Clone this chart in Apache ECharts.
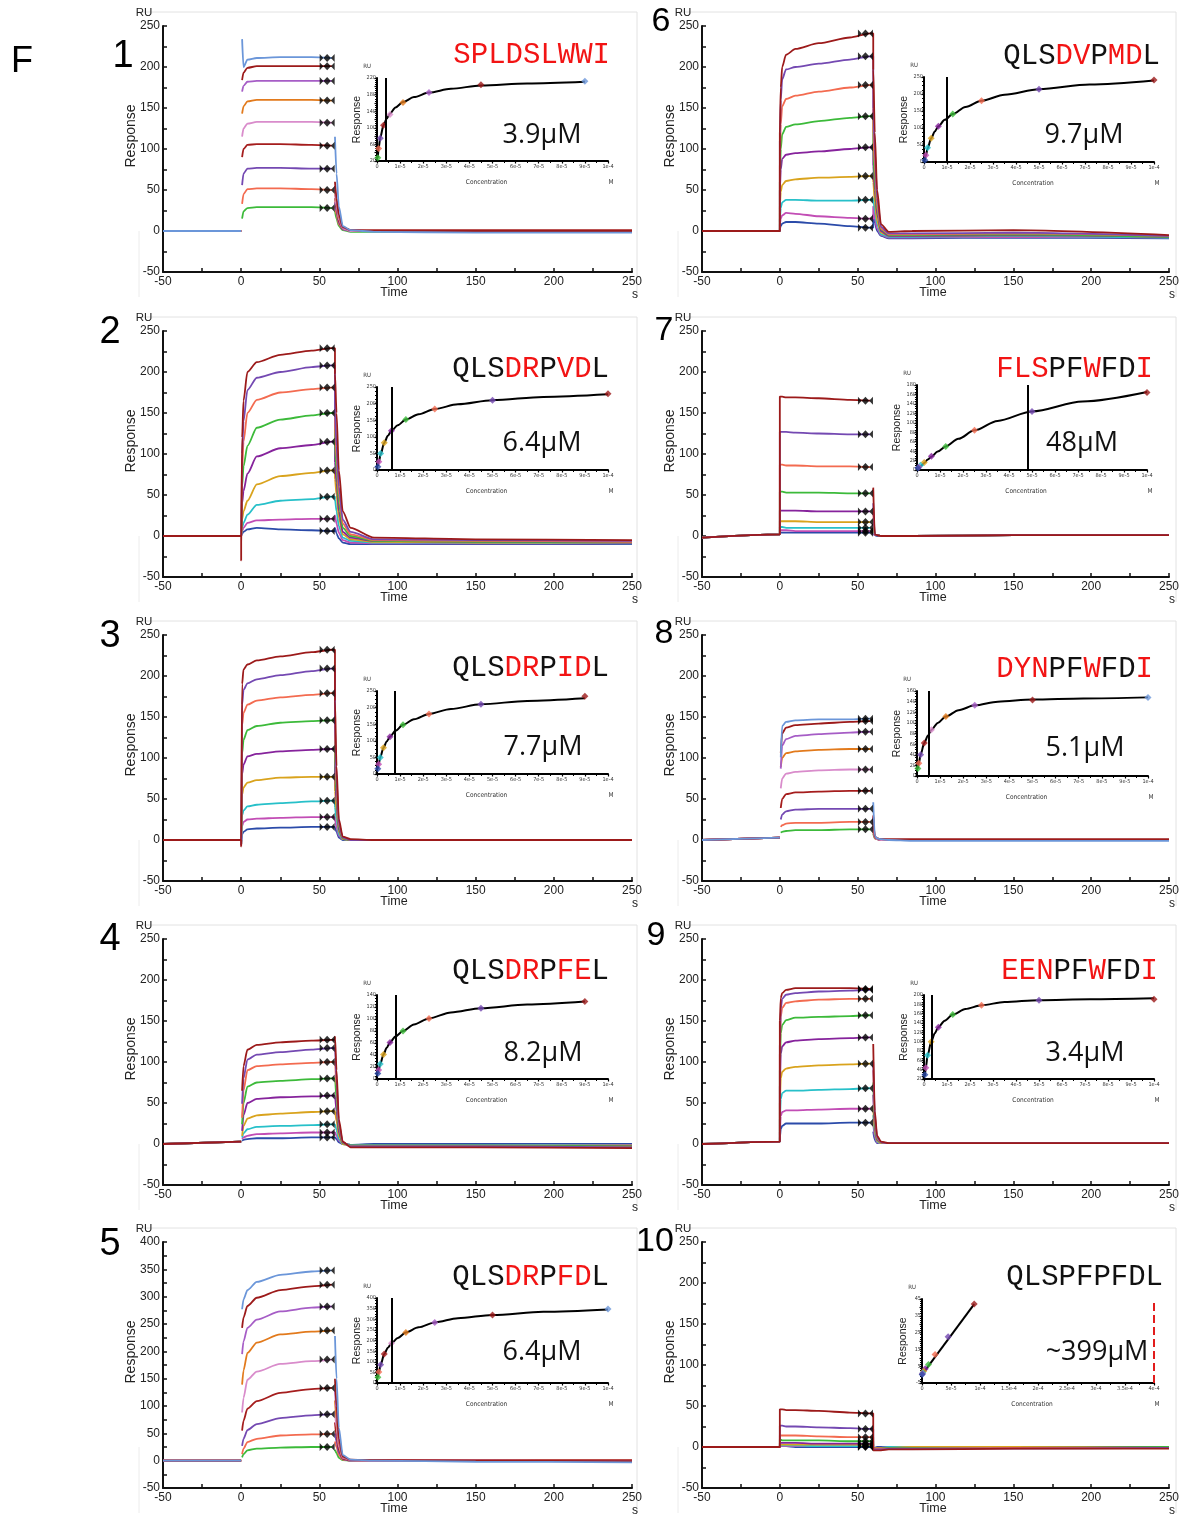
<!DOCTYPE html>
<html><head><meta charset="utf-8">
<script src="https://cdn.jsdelivr.net/npm/echarts@6/dist/echarts.min.js"></script>
<style>html,body{margin:0;padding:0;background:#fff}#c{width:1185px;height:1518px}</style>
</head><body><div id="c"></div><script>
// ---------- DATA ----------
const time = [-50, 0, 0, 0.6, 1.5, 4, 10, 25, 45, 58, 60, 60, 61, 62.5, 65, 70, 85, 150, 250];
const reportTime = 55;
const xTickLabels = ['-50','0','50','100','150','200','250'];
const colorsA = ['#6b96d9','#9c1a1a','#a65dc6','#e27a1c','#d98ccb','#a51d1d','#7449b2','#f36b50','#3cba3a'];
const colorsB = ['#9c1a1a','#7449b2','#f36b50','#3cba3a','#86239c','#d9a31d','#27c0c9','#c24db5','#2b4ba9'];

const p1 = [
 [0,0,null,234,200,209,211,212,212,211,null,115,70,30,6,1,-1,-2,-2],
 [0,0,null,184,193,199,201,201,201,201,null,60,40,20,5,1,0,0,0],
 [0,0,null,170,177,182,183,183,183,183,null,55,38,18,4,1,0,0,-1],
 [0,0,null,143,152,158,160,160,160,159,null,50,35,16,4,1,0,0,-1],
 [0,0,null,115,125,131,133,133,133,132,null,45,30,14,3,0,0,0,-1],
 [0,0,null,90,100,105,106,106,105,104,null,40,28,12,3,1,1,1,1],
 [0,0,null,56,70,76,77,77,76,76,null,35,24,10,2,0,0,0,-1],
 [0,0,null,33,45,51,52,52,51,50,null,30,20,8,2,0,0,0,0],
 [0,0,null,15,24,28,29,29,29,28,null,25,15,6,1,-1,-1,-1,-1]];
const p2 = [
 [0,0,-30,120,165,200,212,221,226,229,229,198,150,80,30,10,-2,-4,-5],
 [0,0,0,100,140,178,193,200,206,208,208,150,110,60,20,5,-4,-5,-6],
 [0,0,0,80,115,150,166,175,179,181,181,130,95,50,15,2,-5,-6,-7],
 [0,0,0,60,85,110,132,142,147,150,150,110,80,40,10,0,-6,-7,-7],
 [0,0,0,40,55,76,97,107,111,115,115,90,65,30,5,-2,-6,-7,-8],
 [0,0,0,20,30,43,63,73,77,80,80,70,50,22,2,-4,-7,-8,-8],
 [0,0,0,10,16,26,38,43,45,48,48,45,30,12,-2,-6,-8,-8,-9],
 [0,0,0,6,10,16,19,20,21,21,21,25,15,4,-5,-8,-9,-9,-9],
 [0,0,0,3,5,8,10,8,7,6,6,10,3,-3,-8,-10,-10,-10,-10]];
const p3 = [
 [0,0,-8,190,208,214,219,224,229,232,232,170,90,25,4,1,0,0,0],
 [0,0,-6,165,183,191,196,201,206,209,209,140,75,20,3,0,0,0,0],
 [0,0,-6,140,155,165,170,174,177,179,179,120,65,18,3,0,0,0,0],
 [0,0,-5,105,122,134,139,143,145,146,146,100,55,15,2,0,0,0,0],
 [0,0,-5,80,92,102,105,108,110,111,111,80,45,12,2,0,0,0,0],
 [0,0,-5,55,64,70,73,76,77,77,77,60,35,10,1,0,0,0,0],
 [0,0,-5,30,36,41,43,45,47,48,48,40,25,7,1,0,0,0,0],
 [0,0,-5,17,22,25,26,27,28,28,28,25,15,5,1,0,0,0,0],
 [0,0,-5,7,10,13,14,15,16,16,16,15,10,3,0,0,0,0,0]];
const p4 = [
 [0,3,null,65,95,115,121,124,126,127,127,131,90,30,3,-4,-4,-4,-5],
 [0,3,null,49,80,103,109,112,115,117,117,117,80,25,2,-3,-3,-3,-4],
 [0,3,null,32,65,90,95,97,99,100,100,100,70,22,2,-3,-3,-3,-4],
 [0,3,null,24,50,70,75,77,79,80,80,80,55,18,1,-2,-2,-2,-3],
 [0,3,null,16,35,50,55,57,58,59,59,59,40,14,1,-2,-2,-2,-3],
 [0,3,null,10,22,31,35,37,39,40,40,40,28,10,0,-2,-2,-2,-2],
 [0,3,null,8,13,18,21,22,23,24,24,24,17,6,0,-1,-1,-1,-2],
 [0,3,null,6,8,10,12,13,14,14,14,14,10,4,0,-1,-1,-1,-1],
 [0,3,null,4,5,6,7,7,8,8,8,8,6,2,0,-1,0,0,0]];
const p5 = [
 [0,0,null,277,295,312,327,340,346,348,null,228,150,60,10,2,0,-2,-3],
 [0,0,null,243,262,283,298,312,319,322,null,150,100,40,8,2,1,0,-1],
 [0,0,null,195,218,243,258,273,280,282,null,130,90,35,7,1,0,0,-1],
 [0,0,null,139,165,197,216,231,236,238,null,110,75,30,6,1,0,0,-1],
 [0,0,null,88,115,148,163,177,182,185,null,90,60,25,5,1,0,0,-1],
 [0,0,null,55,73,95,109,124,131,133,null,70,45,20,4,1,1,1,1],
 [0,0,null,27,40,56,67,78,83,85,null,50,35,15,3,0,0,0,-1],
 [0,0,null,12,22,34,40,46,48,49,null,35,25,10,2,0,0,0,0],
 [0,0,null,6,12,19,22,24,25,25,null,20,14,5,1,0,0,-1,-1]];
const p6 = [
 [0,0,120,175,200,215,222,229,236,241,241,197,120,50,8,-1,0,1,-5],
 [0,0,110,160,185,197,200,204,209,213,213,150,100,40,5,-3,-3,-2,-6],
 [0,0,80,130,152,161,165,170,175,178,178,120,80,30,3,-4,-4,-3,-6],
 [0,0,60,100,118,127,130,134,138,140,140,100,60,25,2,-5,-5,-4,-7],
 [0,0,50,75,88,93,95,97,100,102,102,80,50,20,0,-6,-6,-5,-7],
 [0,0,30,48,56,61,63,65,66,67,67,60,35,12,-2,-6,-6,-5,-7],
 [0,0,15,28,35,38,38,37,37,38,38,40,25,8,-4,-7,-7,-6,-8],
 [0,0,8,15,19,22,21,18,16,15,15,30,15,3,-5,-8,-8,-7,-8],
 [0,0,3,6,9,11,11,9,6,4,4,20,10,0,-6,-9,-9,-8,-9]];
const p7 = [
 [-2,2,170,170,170,169,169,168,166,165,null,59,2,1,0,0,0,1,1],
 [-2,2,127,127,127,127,126,125,124,124,null,40,2,1,0,0,0,1,1],
 [-2,2,87,87,87,86,86,85,85,84,null,30,2,1,0,0,0,1,1],
 [-2,2,54,54,54,53,53,53,52,52,null,20,2,1,0,0,0,1,1],
 [-2,2,31,31,31,31,31,30,30,30,null,15,2,1,0,0,0,1,1],
 [-2,2,18,18,18,18,18,17,17,17,null,10,2,1,0,0,0,1,1],
 [-2,2,11,11,11,10,10,10,10,10,null,8,2,1,0,0,0,1,1],
 [-2,2,7,7,7,7,6,6,6,6,null,5,1,1,0,0,0,1,1],
 [-2,2,4,4,4,4,4,4,4,4,null,3,1,0,0,0,0,1,1]];
const p8 = [
 [0,3,null,101,139,144,146,147,147,148,null,46,5,2,1,0,-1,-1,-1],
 [0,3,null,106,130,137,140,142,144,145,null,30,4,2,1,1,1,1,1],
 [0,3,null,87,115,123,127,129,131,132,null,28,4,2,1,0,0,0,0],
 [0,3,null,89,100,106,108,110,111,111,null,25,4,2,1,0,0,0,0],
 [0,3,null,63,75,81,83,85,86,86,null,20,3,1,0,0,0,0,0],
 [0,3,null,39,50,56,58,59,60,60,null,18,3,1,0,0,0,0,0],
 [0,3,null,25,31,35,37,38,38,38,null,15,3,1,0,0,0,0,0],
 [0,3,null,16,18,20,21,21,22,22,null,10,2,1,0,0,0,0,0],
 [0,3,null,9,10,11,12,12,13,13,null,8,2,1,0,0,0,0,0]];
const p9 = [
 [0,3,150,178,184,188,190,190,190,189,null,122,40,10,3,1,1,1,1],
 [0,3,120,165,177,182,184,186,187,188,null,100,35,8,2,1,1,1,1],
 [0,3,110,155,166,172,174,176,177,177,null,90,30,7,2,1,1,1,1],
 [0,3,90,135,145,151,154,155,156,157,null,75,25,6,2,1,1,1,1],
 [0,3,70,110,119,124,126,128,129,130,null,60,20,5,2,1,1,1,1],
 [0,3,50,80,88,92,94,96,97,98,null,45,15,4,1,1,1,1,1],
 [0,3,30,55,62,65,65,66,67,68,null,35,12,3,1,1,1,1,1],
 [0,3,15,34,39,41,41,42,43,43,null,25,8,2,1,1,1,1,1],
 [0,3,8,18,22,25,25,25,26,26,null,15,5,1,1,1,1,1,1]];
const p10 = [
 [0,0,46,46,46,45,45,44,42,41,41,-4,-4,-4,-4,-3,-3,-2,-2],
 [0,0,26,26,26,25,25,24,23,22,22,-3,-3,-3,-3,-2,-2,-2,-1],
 [0,0,14,14,14,14,14,13,12,12,12,-2,-2,-2,-2,-2,-2,-1,-1],
 [0,0,9,9,8,8,8,8,7,7,7,-2,-2,-2,-2,-1,-1,-1,0],
 [0,0,5,5,5,5,5,4,4,4,4,-2,-2,-2,-2,-1,-1,-1,0],
 [0,0,3,3,3,3,3,3,3,3,3,-1,-1,-1,-1,-1,0,0,0],
 [0,0,2,2,2,2,2,1,1,1,1,-1,-1,-1,-1,0,0,0,0],
 [0,0,1,1,1,1,1,1,1,1,1,-1,-1,-1,-1,0,0,0,0],
 [0,0,1,1,1,1,0,0,0,0,0,-1,-1,0,0,0,0,0,0]];

// Inset (steady-state) data, concentrations in µM
const concA = [90, 45, 22.5, 11.25, 5.63, 2.81, 1.41, 0.70, 0.35];
const concB = [100, 50, 25, 12.5, 6.25, 3.13, 1.56, 0.78, 0.39];
const ins1 = [212,204,185,161,132,106,75,50,28];
const ins2 = [230,210,184,152,118,82,50,25,10];
const ins3 = [234,210,181,148,112,79,50,29,16];
const ins4 = [129,118,101,80,61,41,25,15,9];
const ins5 = [348,320,285,238,187,136,86,52,27];
const ins6 = [241,214,180,141,105,70,42,20,5];
const ins7 = [164,124,84,50,29,16,10,6,4];
const ins8 = [148,143,133,112,87,62,40,24,14];
const ins9 = [191,189,178,158,131,100,71,44,29];
const ins10 = [42,22.5,12,6,3.5,2,1,0.5,0];

// Fitted curves read along the black line of each inset (µM, RU)
const fitXA = [0.35,0.7,1.4,2.8,4.2,5.6,8,11.25,16,22.5,32,45,65,90];
const fitXB = [0.39,0.78,1.56,3.13,4.7,6.25,9,12.5,18,25,35,50,72,100];
const fitX10 = [0, 90];
const fit1 = [28,50,76,106,122,134,149,162,174,185,194,202,207,211];
const fit2 = [12,24,47,82,103,118,135,152,168,184,198,210,220,228];
const fit3 = [16,29,50,79,98,112,130,148,165,181,196,210,220,228];
const fit4 = [9,15,25,41,52,61,71,80,91,101,111,118,124,129];
const fit5 = [27,50,86,136,166,187,212,238,262,285,305,320,335,346];
const fit6 = [5,18,40,70,90,105,124,141,162,180,198,214,228,240];
const fit7 = [2,4,8,15,22,28,39,50,66,84,104,124,145,165];
const fit8 = [14,24,40,62,76,87,100,112,124,133,140,144,146,148];
const fit9 = [26,44,70,100,118,131,145,158,170,178,185,189,191,193];
const fit10 = [0,42];

const kdValues = [3.9, 6.4, 7.7, 8.2, 6.4, 9.7, 48, 5.1, 3.4, 399];
const kdTexts = ['3.9μM','6.4μM','7.7μM','8.2μM','6.4μM','9.7μM','48μM','5.1μM','3.4μM','~399μM'];
const insetXLabels = ['0','1e-5','2e-5','3e-5','4e-5','5e-5','6e-5','7e-5','8e-5','9e-5','1e-4'];
const insetXLabelsWide = ['0','5e-5','1e-4','1.5e-4','2e-4','2.5e-4','3e-4','3.5e-4','4e-4'];
const insetYMin  = [20, 0, 0, 0, 0, 0, 0, 0, 20, -5];
const insetYMax  = [220, 250, 250, 140, 400, 250, 180, 160, 200, 45];
const insetYStep = [20, 50, 50, 20, 50, 50, 20, 20, 20, 5];
const insetYEvery = [2, 1, 1, 1, 1, 1, 1, 1, 1, 2];

const peptides = ['SPLDSLWWI','QLSDRPVDL','QLSDRPIDL','QLSDRPFEL','QLSDRPFDL','QLSDVPMDL','FLSPFWFDI','DYNPFWFDI','EENPFWFDI','QLSPFPFDL'];
const peptideRedMask = ['111111111','000110110','000110110','000110110','000110110','000110110','111001001','111001001','111001001','000000000'];
const panelNumbers = ['1','2','3','4','5','6','7','8','9','10'];

// ---------- PANEL SETUP ----------
const panelCurves = [p1,p2,p3,p4,p5,p6,p7,p8,p9,p10];
const panelColors = [colorsA,colorsB,colorsB,colorsB,colorsA,colorsB,colorsB,colorsA,colorsB,colorsB];
const panelYMax = [250,250,250,250,400,250,250,250,250,250];
const panelConc = [concA,concB,concA,concA,concB,concB,concB,concB,concB,concA];
const panelIns = [ins1,ins2,ins3,ins4,ins5,ins6,ins7,ins8,ins9,ins10];
const panelFitX = [fitXA,fitXB,fitXA,fitXA,fitXB,fitXB,fitXB,fitXB,fitXB,fitX10];
const panelFitY = [fit1,fit2,fit3,fit4,fit5,fit6,fit7,fit8,fit9,fit10];

// layout
const mainLeft = [163, 702], mainWidth = [469, 467], rowTop = [26, 331, 635, 939, 1242], mainH = 246;
const insetBox = [[377,608,78,161],[377,608,387,470],[377,608,691,774],[377,608,995,1079],[377,608,1298,1383],
                  [924,1154,77,162],[917,1147,385,470],[917,1148,691,776],[924,1154,995,1079],[922,1154,1299,1383]];
const numPos = [[123,57],[110,333],[110,637],[110,940],[110,1245],[661,22],[664,331],[664,634],[656,936],[655,1242]];
const pepPos = [[610,55],[609,369],[609,668],[609,971],[609,1277],[1160,56],[1153,369],[1153,669],[1158,971],[1163,1277]];
const kdPos = [[542,135],[542,443],[543,747],[543,1053],[542,1352],[1084,135],[1082,443],[1085,748],[1085,1053],[1097,1352]];
const frameX = [[139,637],[678,1176]];

const SANS = 'Liberation Sans, Arial, sans-serif';
const NARROW = 'Liberation Sans Narrow, DejaVu Sans Condensed, Liberation Sans, sans-serif';
const bowtie = 'path://M0,0L4,3L0,6ZM8,0L4,3L8,6ZM8,0L12,3L8,6ZM16,0L12,3L16,6Z';

const grids = [], xAxes = [], yAxes = [], series = [], graphics = [];

graphics.push({type:'text', x:22, y:62, style:{text:'F', font:'36px '+SANS, fill:'#000', align:'center', verticalAlign:'middle'}});

for (let i = 0; i < 10; i++) {
  const col = i < 5 ? 0 : 1, row = i % 5;
  const L = mainLeft[col], W = mainWidth[col], T = rowTop[row];
  const gMain = grids.length;
  grids.push({left:L, top:T, width:W, height:mainH});
  xAxes.push({type:'value', gridIndex:gMain, min:-50, max:250, interval:50,
    axisLine:{onZero:false, lineStyle:{color:'#111', width:2}},
    axisTick:{inside:true, length:4, lineStyle:{color:'#111', width:1.5}},
    minorTick:{show:true, splitNumber:2, length:4, lineStyle:{color:'#111', width:1.5}},
    splitLine:{show:false},
    axisLabel:{fontSize:12, fontFamily:SANS, color:'#222', margin:4, showMinLabel:true, showMaxLabel:true,
      formatter:(v, idx) => xTickLabels[idx] ?? String(v)}});
  yAxes.push({type:'value', gridIndex:gMain, min:-50, max:panelYMax[i], interval:50,
    axisLine:{onZero:false, lineStyle:{color:'#111', width:2}},
    axisTick:{inside:true, length:4, lineStyle:{color:'#111', width:1.5}},
    minorTick:{show:true, splitNumber:2, length:4, lineStyle:{color:'#111', width:1.5}},
    splitLine:{show:false},
    axisLabel:{fontSize:12, fontFamily:SANS, color:'#222', margin:3, showMinLabel:true, showMaxLabel:true}});

  const curves = panelCurves[i], colors = panelColors[i];
  for (let k = curves.length - 1; k >= 0; k--) {
    series.push({type:'line', xAxisIndex:gMain, yAxisIndex:gMain, showSymbol:false, silent:true,
      connectNulls:false, smooth:0.25, smoothMonotone:'x',
      lineStyle:{width:1.8, color:colors[k]}, itemStyle:{color:colors[k]},
      data: time.map((t, j) => [t, curves[k][j] === null ? '-' : curves[k][j]])});
  }
  series.push({type:'scatter', xAxisIndex:gMain, yAxisIndex:gMain, silent:true, symbol:bowtie, symbolSize:[15,8],
    itemStyle:{color:'#000'}, z:5, data: curves.map(c => [reportTime, c[9]])});

  // inset
  const b = insetBox[i];
  const gIn = grids.length;
  const wide = i === 9;
  grids.push({left:b[0], top:b[2], width:b[1]-b[0], height:b[3]-b[2]});
  const xl = wide ? insetXLabelsWide : insetXLabels;
  xAxes.push({type:'value', gridIndex:gIn, min:0, max: wide ? 400 : 100, interval: wide ? 50 : 10,
    axisLine:{onZero:false, lineStyle:{color:'#000', width:2}},
    axisTick:{length:2.5, lineStyle:{color:'#000', width:1.2}},
    minorTick:{show:true, splitNumber:2, length:2, lineStyle:{color:'#000', width:1}},
    splitLine:{show:false},
    axisLabel:{fontSize:5.5, fontFamily:NARROW, color:'#333', margin:3, showMinLabel:true, showMaxLabel:true,
      formatter:(v, idx) => xl[idx] ?? ''}});
  const every = insetYEvery[i];
  yAxes.push({type:'value', gridIndex:gIn, min:insetYMin[i], max:insetYMax[i], interval:insetYStep[i],
    axisLine:{onZero:false, lineStyle:{color:'#000', width:2}},
    axisTick:{length:2.5, lineStyle:{color:'#000', width:1.2}},
    minorTick:{show:true, splitNumber:4, length:2, lineStyle:{color:'#000', width:1}},
    splitLine:{show:false},
    name:'Response', nameLocation:'middle', nameGap:13, nameRotate:90,
    nameTextStyle:{fontSize:10.5, fontFamily:SANS, color:'#222'},
    axisLabel:{fontSize:5.5, fontFamily:NARROW, color:'#333', margin:1, showMinLabel:true, showMaxLabel:true,
      formatter:(v, idx) => (idx % every === 0 ? String(v) : '')}});

  const conc = panelConc[i], resp = panelIns[i];
  const fx = panelFitX[i], fy = panelFitY[i];
  series.push({type:'line', xAxisIndex:gIn, yAxisIndex:gIn, silent:true, showSymbol:false, smooth:0.3,
    smoothMonotone:'x', lineStyle:{color:'#000', width:2}, itemStyle:{color:'#000'}, z:3,
    data: fx.map((x, k) => [x, fy[k]]),
    markLine:{silent:true, symbol:['none','none'], label:{show:false},
      lineStyle:{color: wide ? '#e21c1c' : '#000', width:2, type: wide ? 'dashed' : 'solid'},
      data:[{xAxis:kdValues[i]}]}});
  series.push({type:'scatter', xAxisIndex:gIn, yAxisIndex:gIn, silent:true, symbol:'diamond', symbolSize:7, z:4,
    data: conc.map((c, k) => ({value:[c, resp[k]], itemStyle:{color:colors[k]}}))});

  // texts
  const axisRight = L + W;
  graphics.push({type:'line', shape:{x1:frameX[col][0], y1:T-14, x2:frameX[col][1], y2:T-14}, style:{stroke:'#e2e2e2', lineWidth:1}});
  graphics.push({type:'line', shape:{x1:frameX[col][1], y1:T-14, x2:frameX[col][1], y2:T+271}, style:{stroke:'#e2e2e2', lineWidth:1}});
  graphics.push({type:'line', shape:{x1:frameX[col][0], y1:T+205, x2:frameX[col][0], y2:T+271}, style:{stroke:'#ececec', lineWidth:1}});
  graphics.push({type:'text', x:numPos[i][0], y:numPos[i][1], style:{text:panelNumbers[i], font:(col ? '34px ' : '38px ')+SANS, fill:'#000', align:'center', verticalAlign:'middle'}});
  graphics.push({type:'text', x:L-19, y:T-13, style:{text:'RU', font:'11.5px '+SANS, fill:'#222', align:'center', verticalAlign:'middle'}});
  graphics.push({type:'text', x:L-32, y:T+110, rotation:Math.PI/2, style:{text:'Response', font:'14px '+SANS, fill:'#222', align:'center', verticalAlign:'middle'}});
  graphics.push({type:'text', x:L+231, y:T+267, style:{text:'Time', font:'12.5px '+SANS, fill:'#222', align:'center', verticalAlign:'middle'}});
  graphics.push({type:'text', x:axisRight+3, y:T+269, style:{text:'s', font:'12px '+SANS, fill:'#222', align:'center', verticalAlign:'middle'}});
  // inset labels
  graphics.push({type:'text', x:b[0]-10, y:b[2]-12, style:{text:'RU', font:'6px '+NARROW, fill:'#333', align:'center', verticalAlign:'middle'}});
  graphics.push({type:'text', x:(b[0]+b[1])/2-6, y:b[3]+21, style:{text:'Concentration', font:'6.5px '+NARROW, fill:'#333', align:'center', verticalAlign:'middle'}});
  graphics.push({type:'text', x:b[1]+3, y:b[3]+21, style:{text:'M', font:'6.5px '+NARROW, fill:'#333', align:'center', verticalAlign:'middle'}});
  // peptide: two overlaid monospace strings (black / red letters)
  const pep = peptides[i], mask = peptideRedMask[i];
  const blackTxt = pep.split('').map((ch, j) => mask[j] === '1' ? ' ' : ch).join('');
  const redTxt = pep.split('').map((ch, j) => mask[j] === '1' ? ch : ' ').join('');
  const pepFont = '29px "Courier New", "Liberation Mono", monospace';
  graphics.push({type:'text', x:pepPos[i][0], y:pepPos[i][1], style:{text:blackTxt, font:pepFont, fill:'#111', align:'right', verticalAlign:'middle'}});
  graphics.push({type:'text', x:pepPos[i][0], y:pepPos[i][1], style:{text:redTxt, font:pepFont, fill:'#f21414', align:'right', verticalAlign:'middle'}});
  graphics.push({type:'text', x:kdPos[i][0], y:kdPos[i][1], style:{text:kdTexts[i], font:'27px "Open Sans", sans-serif', fill:'#111', align:'center', verticalAlign:'middle'}});
}

const chart = echarts.init(document.getElementById('c'), null, {renderer:'canvas'});
chart.setOption({animation:false, backgroundColor:'#fff', grid:grids, xAxis:xAxes, yAxis:yAxes, series:series,
  graphic:{elements:graphics}});
</script></body></html>
